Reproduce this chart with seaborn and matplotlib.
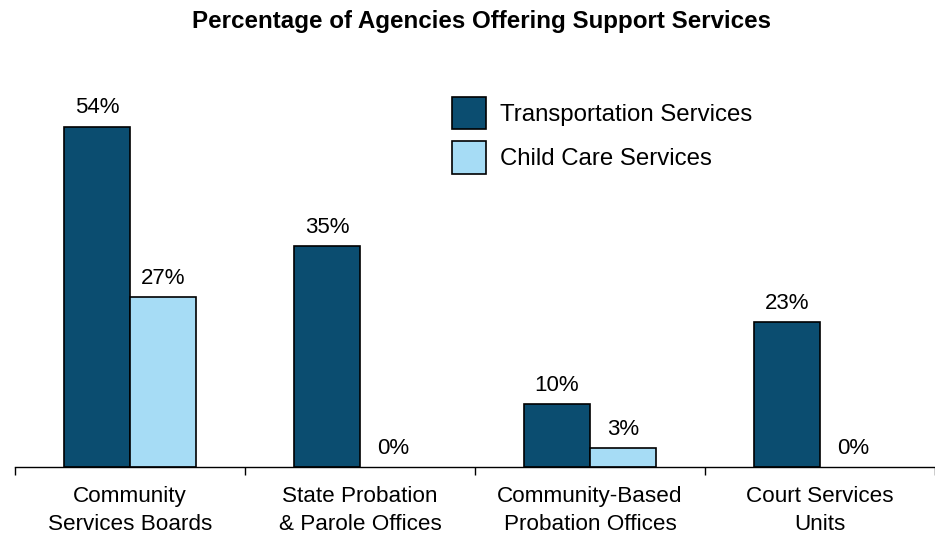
import matplotlib
matplotlib.use("Agg")
import matplotlib.pyplot as plt
import seaborn as sns
import pandas as pd

categories = ["Community\nServices Boards", "State Probation\n& Parole Offices",
              "Community-Based\nProbation Offices", "Court Services\nUnits"]
transportation = [54, 35, 10, 23]
child_care = [27, 0, 3, 0]
series_names = ["Transportation Services", "Child Care Services"]
colors = ["#0B4D70", "#A6DCF5"]

df = pd.DataFrame({
    "category": categories * 2,
    "value": transportation + child_care,
    "series": [series_names[0]] * 4 + [series_names[1]] * 4,
})

sns.set_theme(style="white")
plt.rcParams['font.family'] = ['Liberation Sans', 'DejaVu Sans']
plt.rcParams['text.color'] = 'black'

fig = plt.figure(figsize=(9.35, 5.37), dpi=100)
ax = fig.add_axes([0.016, 0.1304, 0.984, 0.704])
sns.barplot(data=df, x="category", y="value", hue="series", palette=colors,
            saturation=1, width=0.574, edgecolor="black", linewidth=1.2, gap=0, ax=ax,
            legend=True, errorbar=None)

for p in ax.patches:
    if p.get_height() == 0:
        p.set_linewidth(0)

for cont in ax.containers:
    ax.bar_label(cont, labels=[f"{v:.0f}%" for v in cont.datavalues],
                 padding=6, fontsize=16, color="black")

ax.set_ylim(0, 60)
ax.set_xlim(-0.5, 3.5)
ax.set_xlabel("")
ax.set_ylabel("")
ax.set_yticks([])
for s in ["top", "right", "left"]:
    ax.spines[s].set_visible(False)
ax.spines["bottom"].set_color("black")
ax.spines["bottom"].set_linewidth(1.0)
ax.tick_params(axis="x", which="major", length=0, labelsize=16.2, pad=14, colors="black")
for t in ax.get_xticklabels():
    t.set_linespacing(1.4)
ax.set_xticks([-0.5, 0.5, 1.5, 2.5, 3.5], minor=True)
ax.tick_params(axis="x", which="minor", length=6, width=1, color="black", direction="out", bottom=True)

leg = ax.legend(loc="upper left", bbox_to_anchor=(0.475, 0.979), frameon=False,
                fontsize=17.3, handlelength=1.42, handleheight=1.7,
                labelspacing=0.5, handletextpad=0.58, borderaxespad=0, borderpad=0)
for h in leg.legend_handles:
    h.set_edgecolor("black")
    h.set_linewidth(1.2)
for t in leg.get_texts():
    t.set_color("black")

fig.suptitle("Percentage of Agencies Offering Support Services", x=0.515, y=0.982,
             fontsize=17.4, fontweight="bold", color="black")

fig.savefig("out.png", dpi=100)
